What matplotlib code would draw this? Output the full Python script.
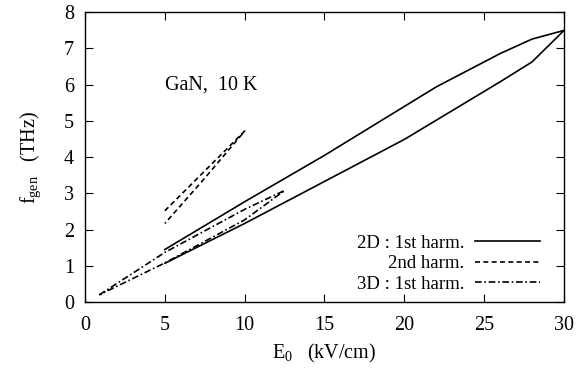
import matplotlib
matplotlib.use('Agg')
from matplotlib import pyplot as plt

plt.rcParams['font.family'] = ['Liberation Serif', 'DejaVu Serif']
plt.rcParams['mathtext.fontset'] = 'custom'
plt.rcParams['mathtext.rm'] = 'Liberation Serif'
plt.rcParams['mathtext.it'] = 'Liberation Serif:italic'

# 2D : 1st harmonic (upper branch and lower branch, meeting at 30 kV/cm)
e_2d_up = [5, 10, 15, 22, 26, 28, 30]
f_2d_up = [1.45, 2.77, 4.05, 5.94, 6.86, 7.26, 7.5]
e_2d_lo = [5, 10, 15, 20, 26, 28, 30]
f_2d_lo = [1.07, 2.17, 3.33, 4.49, 6.08, 6.63, 7.5]

# 2D : 2nd harmonic
e_2nd_up = [5, 7.5, 10]
f_2nd_up = [2.52, 3.62, 4.72]
e_2nd_lo = [5, 7.5, 10]
f_2nd_lo = [2.17, 3.42, 4.72]

# 3D : 1st harmonic
e_3d_up = [0.9, 5, 10, 12.5]
f_3d_up = [0.2, 1.37, 2.56, 3.08]
e_3d_lo = [0.9, 5, 10, 12.5]
f_3d_lo = [0.2, 1.08, 2.27, 3.08]

fig = plt.figure(figsize=(5.87, 3.72), dpi=100)
ax = fig.add_axes([0.1448, 0.188, 0.816, 0.779])

lw = 1.2
ax.plot(e_2d_up + e_2d_lo[::-1], f_2d_up + f_2d_lo[::-1], color='black', lw=lw,
        label='2D : 1st harm.')
ax.plot(e_2nd_up + e_2nd_lo[::-1], f_2nd_up + f_2nd_lo[::-1], color='black', lw=lw,
        dashes=(3, 2.0), label='2nd harm.')
ax.plot(e_3d_up + e_3d_lo[::-1], f_3d_up + f_3d_lo[::-1], color='black', lw=lw,
        dashes=(4, 1.6, 1, 1.6), label='3D : 1st harm.')

ax.set_xlim(0, 30)
ax.set_ylim(0, 8)
ax.set_xticks([0, 5, 10, 15, 20, 25, 30])
ax.set_yticks(range(0, 9))
ax.tick_params(direction='in', top=True, right=True, labelsize=14.5, length=6, width=0.8)
ax.tick_params(axis='x', pad=10)
ax.tick_params(axis='y', pad=8)
for s in ax.spines.values():
    s.set_linewidth(1.0)

ax.set_xlabel(r'$\mathrm{E}_0$   (kV/cm)', fontsize=14.5, labelpad=5)
ax.set_ylabel(r'$\mathrm{f}_{\mathrm{gen}}$   (THz)', fontsize=14.5, labelpad=15)
ax.text(5.0, 5.98, 'GaN,  10 K', fontsize=14.5, va='center', ha='left')

leg = ax.legend(loc='lower right', bbox_to_anchor=(0.966, 0.006), frameon=False,
                markerfirst=False, fontsize=13.5, handlelength=3.5, handletextpad=0.55,
                labelspacing=0.18, borderaxespad=0.0)
for t in leg.get_texts():
    t.set_ha('right')

fig.savefig('out.png', dpi=100)
